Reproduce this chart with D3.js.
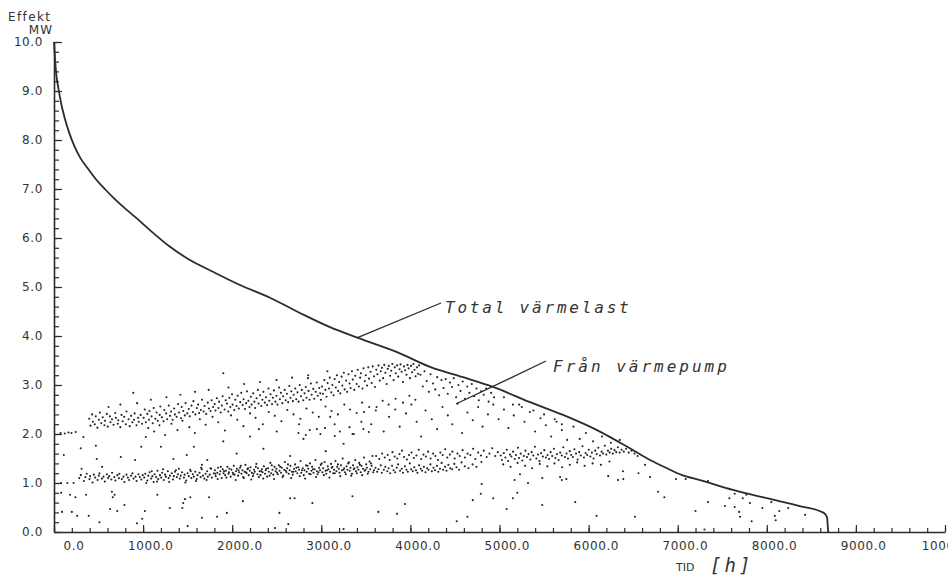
<!DOCTYPE html>
<html>
<head>
<meta charset="utf-8">
<script src="https://cdn.jsdelivr.net/npm/d3@7"></script>
<style>
  body { margin: 0; background: #fff; }
  svg { display: block; }
  .tick text { font-family: "DejaVu Sans", sans-serif; font-size: 12px; fill: #333; letter-spacing: 0.6px; }
</style>
</head>
<body>
<svg width="948" height="575"></svg>
<script>
// varaktighetskurva, total värmelast (h, MW)
var loadCurve = [[0,10.0],[10,9.7],[25,9.35],[50,9.05],[80,8.75],[120,8.45],[170,8.15],[230,7.87],[300,7.62],[380,7.42],[470,7.2],[570,7.0],[680,6.8],[800,6.6],[930,6.4],[1077,6.16],[1302,5.82],[1526,5.55],[1785,5.31],[2088,5.04],[2424,4.78],[2760,4.47],[3098,4.18],[3412,3.96],[3850,3.67],[4220,3.37],[4590,3.16],[4927,2.96],[5342,2.65],[5713,2.39],[6094,2.08],[6500,1.67],[6690,1.47],[6880,1.3],[7050,1.16],[7250,1.06],[7620,0.86],[8000,0.69],[8370,0.53],[8640,0.39],[8676,0.3],[8685,0.1],[8690,0]];

// från värmepump - lägre band
var lowerBand = [[284,1.1],[301,1.16],[335,1.04],[352,1.12],[367,1.19],[398,1.08],[405,1.14],[433,1.01],[447,1.17],[462,1.11],[489,1.06],[503,1.15],[511,1.2],[538,1.09],[556,1.13],[571,1.03],[593,1.18],[608,1.1],[619,1.14],[644,1.07],[652,1.21],[677,1.12],[689,1.05],[712,1.16],[728,1.1],[734,1.19],[761,1.08],[779,1.13],[790,1.02],[813,1.17],[829,1.11],[842,1.06],[866,1.15],[881,1.2],[893,1.09],[915,1.13],[927,1.04],[948,1.18],[963,1.12],[981,1.07],[996,1.16],
[1012,1.11],[1024,1.19],[1047,1.05],[1058,1.15],[1073,1.22],[1091,1.09],[1104,1.14],[1118,1.02],[1129,1.18],[1146,1.12],[1162,1.25],[1170,1.08],[1189,1.16],[1203,1.11],[1214,1.21],[1232,1.06],[1247,1.17],[1255,1.13],[1278,1.24],[1286,1.1],[1301,1.15],[1322,1.2],[1335,1.07],[1344,1.14],[1368,1.26],[1379,1.12],[1391,1.18],[1412,1.09],[1423,1.15],[1437,1.22],[1458,1.11],[1466,1.17],[1484,1.05],[1499,1.2],[1513,1.14],[1528,1.27],[1541,1.1],[1557,1.18],[1569,1.13],[1586,1.23],[1602,1.08],[1611,1.16],[1633,1.21],[1645,1.12],[1659,1.28],[1672,1.15],[1688,1.09],[1701,1.19],[1719,1.24],[1727,1.13],[1748,1.17],[1763,1.29],[1771,1.11],[1794,1.2],
[1036,1.0],[1097,1.24],[1157,1.03],[1224,1.28],[1293,1.02],[1357,1.23],[1402,1.29],[1474,1.01],[1535,1.24],[1594,1.04],[1651,1.31],[1713,1.06],[1756,1.3],
[1806,1.26],[1815,1.14],[1833,1.21],[1841,1.31],[1859,1.18],[1867,1.24],[1882,1.1],[1894,1.28],[1903,1.2],[1921,1.16],[1929,1.25],[1946,1.33],[1958,1.19],[1964,1.22],[1983,1.13],[1991,1.27],[2007,1.21],[2018,1.35],[2026,1.17],[2044,1.24],[2053,1.29],[2067,1.15],[2079,1.22],[2088,1.31],[2104,1.19],[2115,1.26],[2123,1.12],[2139,1.23],[2148,1.37],[2162,1.2],[2171,1.28],[2186,1.16],[2197,1.25],[2205,1.32],[2221,1.21],[2232,1.14],[2246,1.27],[2254,1.23],[2271,1.39],[2283,1.18],[2290,1.3],[2308,1.24],[2317,1.16],[2333,1.28],[2341,1.22],[2356,1.34],[2368,1.19],[2376,1.26],[2392,1.13],[2403,1.3],[2411,1.23],[2428,1.41],[2437,1.2],[2452,1.27],[2461,1.17],[2475,1.33],[2488,1.24],[2496,1.29],[2512,1.18],[2523,1.36],[2531,1.25],[2548,1.21],[2557,1.31],[2573,1.15],[2584,1.27],[2592,1.43],[2609,1.22],[2617,1.3],[2634,1.19],[2645,1.26],[2653,1.35],[2671,1.23],[2679,1.17],[2694,1.29],[2706,1.38],[2713,1.24],[2731,1.2],[2742,1.32],[2750,1.27],[2767,1.45],[2775,1.21],[2792,1.3],[2803,1.16],[2811,1.26],[2828,1.36],[2836,1.23],[2853,1.29],[2864,1.19],[2872,1.4],[2889,1.25],[2897,1.33],[2913,1.21],[2925,1.28],[2934,1.47],[2950,1.24],[2958,1.18],[2975,1.31],[2986,1.26],[2994,1.37],[3012,1.22],[3021,1.3],[3037,1.43],[3048,1.25],[3056,1.19],[3073,1.34],[3081,1.28],[3098,1.23],[3109,1.39],[3117,1.31],[3134,1.2],[3143,1.27],[3159,1.45],[3170,1.24],[3178,1.33],[3196,1.29],[3204,1.21],[3221,1.36],[3232,1.26],[3240,1.5],[3257,1.3],[3266,1.22],[3283,1.34],[3294,1.27],[3302,1.4],[3319,1.25],[3327,1.31],[3344,1.19],[3356,1.36],[3364,1.28],[3381,1.47],[3389,1.24],[3406,1.32],[3417,1.27],[3425,1.41],[3443,1.22],[3451,1.35],[3468,1.29],[3479,1.52],[3487,1.25],[3504,1.38],[3512,1.31],[3530,1.23],[3541,1.44],[3549,1.28],[3566,1.35],[3574,1.55],[3591,1.26],
[1811,1.19],[1837,1.08],[1872,1.33],[1908,1.24],[1935,1.11],[1969,1.29],[2012,1.18],[2039,1.06],[2071,1.26],[2096,1.35],[2131,1.1],[2155,1.22],[2178,1.3],[2214,1.07],[2239,1.19],[2266,1.33],[2299,1.12],[2325,1.24],[2349,1.09],[2383,1.29],[2419,1.15],[2444,1.36],[2469,1.08],[2503,1.21],[2539,1.33],[2566,1.12],[2601,1.25],[2626,1.38],[2662,1.1],[2687,1.23],[2721,1.31],[2758,1.14],[2784,1.26],[2819,1.09],[2845,1.35],[2881,1.18],[2906,1.28],[2941,1.12],[2968,1.22],[3004,1.4],[3029,1.16],[3065,1.26],[3091,1.11],[3126,1.33],[3152,1.2],[3187,1.38],[3213,1.14],[3249,1.27],[3275,1.18],[3310,1.42],[3336,1.15],[3372,1.3],[3398,1.2],[3433,1.37],[3459,1.16],[3495,1.27],[3521,1.19],[3557,1.4],[3583,1.22],
[3608,1.31],[3627,1.23],[3642,1.28],[3668,1.36],[3679,1.21],[3702,1.27],[3718,1.33],[3741,1.24],[3756,1.3],[3773,1.2],[3794,1.35],[3811,1.26],[3829,1.22],[3847,1.31],[3862,1.38],[3884,1.25],[3903,1.29],[3917,1.21],[3938,1.34],[3956,1.27],[3971,1.23],[3993,1.4],[4008,1.28],[4026,1.24],[4044,1.32],[4063,1.26],[4079,1.21],[4097,1.36],[4116,1.29],[4131,1.25],[4152,1.33],[4169,1.22],[4188,1.3],[4203,1.27],[4224,1.38],[4241,1.24],[4259,1.31],[4276,1.26],[4298,1.35],[4313,1.23],[4332,1.29],[4350,1.41],[4367,1.27],[4389,1.33],[4405,1.25],[4426,1.37],[4448,1.3],[4469,1.28],[4493,1.39],[4517,1.32],[4546,1.27],[4574,1.42],[4611,1.34],[4652,1.3],[4698,1.38],[4741,1.33],[4797,1.43],
[3615,1.55],[3651,1.49],[3683,1.6],[3712,1.52],[3745,1.57],[3768,1.47],[3799,1.63],[3823,1.54],[3852,1.5],[3878,1.59],[3906,1.66],[3929,1.53],[3961,1.48],[3984,1.57],[4013,1.62],[4039,1.51],[4068,1.56],[4094,1.68],[4121,1.49],[4147,1.58],[4174,1.54],[4199,1.64],[4227,1.5],[4255,1.6],[4281,1.55],[4309,1.47],[4336,1.62],[4362,1.57],[4391,1.69],[4414,1.52],[4443,1.58],[4471,1.64],[4497,1.5],[4528,1.6],[4553,1.55],[4586,1.67],[4612,1.52],[4641,1.6],[4673,1.57],[4704,1.7],[4729,1.49],[4761,1.62],[4792,1.56],[4823,1.66],[4856,1.53],[4887,1.6],[4918,1.71],[4952,1.55],[4981,1.63],
[5014,1.56],[5027,1.47],[5049,1.61],[5066,1.52],[5081,1.68],[5097,1.45],[5118,1.58],[5133,1.54],[5152,1.64],[5171,1.49],[5185,1.57],[5207,1.72],[5219,1.51],[5238,1.6],[5256,1.46],[5273,1.55],[5291,1.66],[5308,1.53],[5326,1.59],[5347,1.48],[5361,1.63],[5379,1.56],[5398,1.74],[5414,1.5],[5433,1.58],[5449,1.45],[5468,1.61],[5487,1.54],[5503,1.67],[5521,1.52],[5539,1.57],[5556,1.49],[5574,1.63],[5592,1.55],[5611,1.7],[5627,1.51],[5645,1.59],[5663,1.47],[5681,1.62],[5699,1.56],[5716,1.73],[5734,1.53],[5752,1.6],[5769,1.5],[5788,1.65],[5805,1.57],[5823,1.53],[5841,1.69],[5859,1.6],[5877,1.48],[5894,1.63],[5912,1.56],[5931,1.75],[5948,1.52],[5966,1.61],[5984,1.57],[6002,1.68],[6020,1.54],[6037,1.62],[6056,1.5],[6074,1.66],[6091,1.59],[6109,1.72],[6128,1.56],[6146,1.64],[6163,1.6],[6182,1.76],[6199,1.58],[6217,1.66],[6236,1.62],[6254,1.7],[6272,1.6],[6291,1.67],[6310,1.63],[6329,1.73],[6348,1.62],[6370,1.68],[6395,1.64],[6421,1.7],[6450,1.62],[6482,1.66],[6515,1.6],[6550,1.55],
[5042,1.38],[5124,1.33],[5203,1.41],[5287,1.35],[5366,1.3],[5452,1.39],[5538,1.34],[5617,1.4],[5703,1.32],[5789,1.37],[5872,1.42],[5955,1.35],[6045,1.4],[6138,1.37],[6234,1.44]];

// från värmepump - övre band
var upperBand = [[73,2.02],[121,2.01],[162,2.03],[196,2.02],[244,2.04],
[395,2.31],[409,2.17],[428,2.4],[436,2.25],[458,2.2],[469,2.36],[487,2.13],[503,2.29],[515,2.44],[531,2.22],[547,2.34],[566,2.18],[572,2.27],[594,2.41],[603,2.15],[627,2.36],[634,2.24],[651,2.3],[668,2.19],[687,2.43],[695,2.33],[716,2.21],[722,2.28],[744,2.14],[758,2.39],[771,2.26],[788,2.35],[806,2.2],[814,2.46],[837,2.3],[849,2.16],[866,2.37],[879,2.24],[898,2.29],[905,2.42],[926,2.18],[944,2.33],[951,2.25],[973,2.39],[988,2.21],[890,2.84],
[1006,2.33],[1019,2.5],[1031,2.24],[1048,2.41],[1066,2.29],[1072,2.47],[1095,2.36],[1108,2.22],[1119,2.53],[1137,2.31],[1151,2.44],[1164,2.27],[1186,2.39],[1193,2.56],[1211,2.34],[1229,2.26],[1238,2.49],[1259,2.42],[1270,2.3],[1288,2.58],[1302,2.37],[1314,2.46],[1331,2.29],[1349,2.52],[1357,2.4],[1376,2.35],[1392,2.61],[1404,2.44],[1425,2.32],[1433,2.55],[1451,2.47],[1468,2.38],[1477,2.63],[1496,2.42],[1512,2.51],[1524,2.36],[1543,2.58],[1559,2.45],[1565,2.67],[1587,2.4],[1603,2.53],[1617,2.6],[1629,2.43],[1648,2.49],[1662,2.7],[1679,2.46],[1690,2.57],[1708,2.41],[1726,2.64],[1739,2.52],[1757,2.47],[1768,2.69],[1785,2.55],
[1803,2.61],[1812,2.48],[1828,2.73],[1846,2.53],[1853,2.66],[1871,2.44],[1884,2.58],[1893,2.77],[1900,3.24],[1915,2.5],[1927,2.69],[1941,2.62],[1956,2.46],[1968,2.74],[1979,2.55],[1998,2.81],[2004,2.6],[2023,2.49],[2035,2.7],[2049,2.57],[2061,2.78],[2074,2.52],[2090,2.65],[2102,2.84],[2117,2.59],[2128,2.71],[2143,2.51],[2157,2.63],[2166,2.87],[2182,2.68],[2194,2.55],[2209,2.76],[2218,2.6],[2236,2.83],[2249,2.66],[2258,2.53],[2274,2.73],[2288,2.9],[2296,2.62],[2313,2.79],[2327,2.57],[2339,2.7],[2350,2.86],[2366,2.64],[2379,2.75],[2391,2.59],[2407,2.93],[2416,2.68],[2430,2.81],[2447,2.61],[2456,2.74],[2469,2.89],[2485,2.66],[2497,2.78],[2508,2.6],[2526,2.95],[2535,2.71],[2547,2.84],[2563,2.63],[2571,2.77],[2589,2.9],[2600,2.69],[2614,2.82],[2628,2.65],[2641,2.98],[2655,2.74],[2664,2.87],[2681,2.67],[2690,2.8],[2707,2.93],[2719,2.71],[2733,2.85],[2745,2.66],[2758,3.0],[2772,2.77],[2781,2.9],[2797,2.69],[2812,2.83],[2826,2.96],[2834,2.74],[2850,3.14],[2857,2.88],[2868,2.7],[2883,3.03],[2892,2.8],[2910,2.92],[2921,2.72],[2937,2.86],[2949,3.05],[2960,2.78],[2977,2.94],[2988,2.83],[2996,2.7],
[3008,2.97],[3019,2.82],[3034,3.1],[3046,2.9],[3059,2.76],[3071,3.04],[3086,2.93],[3095,3.15],[3112,2.85],[3124,3.0],[3138,2.79],[3150,3.12],[3163,2.95],[3175,3.2],[3189,2.88],[3201,3.06],[3214,2.83],[3228,3.17],[3236,2.99],[3253,3.25],[3262,2.91],[3279,3.09],[3290,2.86],[3305,3.22],[3317,3.03],[3329,2.94],[3344,3.28],[3353,3.11],[3370,2.9],[3381,3.19],[3397,3.02],[3408,3.31],[3421,2.97],[3436,3.15],[3445,3.24],[3462,2.93],[3474,3.34],[3488,3.08],[3499,3.2],[3513,2.99],[3527,3.36],[3536,3.13],[3553,3.27],[3565,3.04],[3577,3.38],[3591,3.18],[3603,2.96],[3617,3.31],[3629,3.22],[3642,3.4],[3656,3.09],[3668,3.28],[3681,3.35],[3694,3.14],[3707,3.41],[3719,3.25],[3734,3.02],[3746,3.33],[3758,3.39],[3773,3.19],[3785,3.29],[3797,3.43],[3812,3.1],[3824,3.36],[3836,3.24],[3851,3.4],[3863,3.17],[3878,3.32],[3889,3.42],[3902,3.27],[3917,3.06],[3929,3.38],[3941,3.3],[3956,3.21],[3968,3.41],[3980,3.34],[3995,3.14],[4007,3.39],[4019,3.26],[4034,3.43],[4046,3.31],[4058,3.18],[4073,3.36],[4085,3.23],[4097,3.4],
[4112,3.21],[4139,2.97],[4158,3.28],[4183,3.08],[4207,2.86],[4226,3.22],[4254,3.03],[4279,2.91],[4301,3.16],[4322,2.79],[4349,3.1],[4371,2.94],[4396,3.12],[4419,2.82],[4444,3.05],[4468,2.96],[4487,3.14],[4513,2.75],[4539,3.0],[4562,2.88],[4587,3.07],[4611,2.72],[4638,2.97],[4662,2.84],[4689,3.02],[4716,2.77],[4741,2.93],[4768,2.69],[4795,2.87],[4823,2.8],[4851,2.93],[4878,2.66],[4906,2.84],[4939,2.75],
[5050,2.75],[5150,2.6],[5250,2.55],[5380,2.48],[5500,2.4],[5620,2.3],[5700,2.2],
[612,2.55],[745,2.6],[933,2.63],[1087,2.7],[1262,2.75],[1419,2.8],[1583,2.86],[1736,2.9],[1958,2.95],[2134,3.02],[2312,3.06],[2498,3.1],[2672,3.15],[2853,3.2],[3068,3.28]];

// enstaka punkter mellan banden och under
var scattered = [[110,1.57],[300,1.71],[330,1.94],[470,1.76],[480,1.49],[310,1.29],[540,1.33],[750,1.53],[910,1.47],[980,1.74],[1030,1.94],[1200,1.74],[1340,1.49],[1490,1.57],[1570,1.74],[1720,1.47],[1660,1.37],[1900,1.85],[2050,1.6],[2200,1.95],[2350,1.7],[2500,2.05],[2650,1.55],[2800,1.9],[2950,2.1],[3050,1.65],[3150,2.2],[3250,1.8],[3350,2.0],[3450,2.25],[2750,2.2],[3100,2.35],[2300,2.1],
[2743,2.02],[2826,1.98],[2871,2.08],[2990,2.0],[3041,2.12],[3152,1.96],[3208,2.05],[3317,2.14],[3366,2.0],[3472,2.1],[3533,2.04],
[1058,2.12],[1124,2.05],[1183,2.18],[1247,1.98],[1318,2.21],[1386,2.08],[1442,2.27],[1519,2.14],[1581,2.02],[1637,2.3],[1702,2.19],[1779,2.35],[1843,2.24],[1918,2.07],[1987,2.38],[2058,2.29],[2126,2.16],[2201,2.42],[2262,2.33],[2344,2.2],[2411,2.45],[2478,2.37],[2552,2.26],[2619,2.49],[2688,2.4],[2765,2.31],[2833,2.52],[2904,2.44],[2972,2.35],[3047,2.56],[3115,2.47],[3186,2.4],[3258,2.6],[3323,2.5],[3397,2.43],[3458,2.64],[3538,2.55],[3612,2.48],[3689,2.68],[3756,2.6],[3834,2.72],[3917,2.64],[3989,2.78],[4056,2.7],
[3480,2.45],[3560,2.2],[3620,2.55],[3700,2.05],[3760,2.35],[3830,2.5],[3880,2.15],[3950,2.42],[4010,2.6],[4070,2.25],[4120,1.95],[4170,2.48],[4240,2.3],[4300,2.1],[4360,2.55],[4420,2.38],[4470,2.2],[4530,2.62],[4580,2.02],[4640,2.44],[4700,2.28],[4760,2.55],[4810,2.15],[4870,2.4],[4930,2.6],[4990,2.3],[5050,2.5],[5100,2.12],[5160,2.38],[5220,2.6],[5280,2.25],[5340,2.45],[5400,2.05],[5460,2.32],[5520,2.18],[5580,1.95],[5640,2.25],[5700,2.08],[5760,1.88],[5830,2.15],[5900,1.9],[5970,2.02],[6050,1.85],[6150,1.95],[6250,1.82],[6350,1.88],
[80,1.0],[150,1.0],[220,1.0],[80,0.8],[180,0.76],[240,0.71],[360,0.76],[90,0.41],[200,0.41],[260,0.33],[390,0.33],[510,0.2],[650,0.82],[680,0.76],[660,0.71],[630,0.47],[710,0.43],[790,0.55],[930,0.18],[990,0.27],[1020,0.43],[1160,0.76],[1300,0.49],[1440,0.49],[1450,0.59],[1470,0.67],[1530,0.71],[1500,0.12],[1660,0.29],[1740,0.71],[1830,0.31],[1940,0.39],[2120,0.63],[2530,0.39],[2630,0.16],[2650,0.69],[2700,0.69],[2900,0.59],[3350,0.73],[3640,0.41],[3850,0.37],[3940,0.57],[4520,0.22],[4640,0.31],[4700,0.65],[4790,0.78],[4800,0.98],[4930,0.69],[5080,0.47],[5200,0.8],[5170,1.06],[5150,0.69],[5480,0.55],[5850,0.61],[6090,0.33],[6520,0.31],[5230,1.18],[5320,1.0],[5480,1.1],[5680,1.12],[5700,1.06],[5750,1.08],[6220,1.14],[6330,1.06],[6390,1.08],[6560,1.2],[6690,1.12],[6780,0.82],[6850,0.71],[6386,1.24],[6633,1.37],[6980,1.08],[7090,1.08],[7200,0.43],[7340,1.04],[7340,0.61],[7530,0.53],[7580,0.69],[7640,0.78],[7640,0.51],[7690,0.41],[7700,0.31],[7730,0.69],[7770,0.76],[7810,0.59],[7830,0.22],[7950,0.49],[8050,0.61],[8090,0.33],[8100,0.24],[8140,0.43],[8240,0.49],[8430,0.35],[2480,0.08],[3250,0.06],[7300,0.05]];

var yMajor = [0,1,2,3,4,5,6,7,8,9,10];
var xMajor = [0,1000,2000,3000,4000,5000,6000,7000,8000,9000,10000];

var svg = d3.select("svg");
var x = d3.scaleLinear().domain([0, 10000]).range([54, 945]);
var y = d3.scaleLinear().domain([0, 10]).range([532, 42]);
var ink = "#2b2b2b";

// minor ticks
svg.append("g").attr("transform", "translate(54,0)")
  .call(d3.axisLeft(y).tickValues(d3.range(0, 10.01, 0.2)).tickSize(-5).tickFormat(""))
  .call(function(g){ g.select(".domain").remove(); });
svg.append("g").attr("transform", "translate(0,532)")
  .call(d3.axisBottom(x).tickValues(d3.range(0, 10001, 200)).tickSize(-4).tickFormat(""))
  .call(function(g){ g.select(".domain").remove(); });

// major axes
var yAxis = svg.append("g").attr("transform", "translate(54,0)")
  .call(d3.axisLeft(y).tickValues(yMajor).tickSize(-8).tickSizeOuter(0).tickPadding(11).tickFormat(d3.format(".1f")));
var xAxis = svg.append("g").attr("transform", "translate(0,532)")
  .call(d3.axisBottom(x).tickValues(xMajor).tickSize(-7).tickSizeOuter(0).tickPadding(9).tickFormat(d3.format(".1f")));
xAxis.selectAll("text").attr("text-anchor", "end").attr("dx", 30);
svg.selectAll(".domain").attr("stroke", ink).attr("stroke-width", 1.6);
svg.selectAll(".tick line").attr("stroke", ink).attr("stroke-width", 1.2);

// scatter
var dots = lowerBand.concat(upperBand, scattered);
svg.append("g").selectAll("circle").data(dots).enter().append("circle")
  .attr("cx", function(d){ return x(d[0]); })
  .attr("cy", function(d){ return y(d[1]); })
  .attr("r", 1.05)
  .attr("fill", "#222");

// curve
svg.append("path").datum(loadCurve)
  .attr("fill", "none").attr("stroke", ink).attr("stroke-width", 1.8)
  .attr("d", d3.line().curve(d3.curveMonotoneX).x(function(d){ return x(d[0]); }).y(function(d){ return y(d[1]); }));

// axis titles
svg.append("text").attr("x", 8).attr("y", 21).text("Effekt")
  .attr("font-family", "DejaVu Sans").attr("font-size", 12).attr("letter-spacing", 1.4).attr("fill", "#333");
svg.append("text").attr("x", 53).attr("y", 34).attr("text-anchor", "end").text("MW")
  .attr("font-family", "DejaVu Sans").attr("font-size", 12).attr("letter-spacing", 1).attr("fill", "#333");
svg.append("text").attr("x", 676).attr("y", 571).text("TID")
  .attr("font-family", "DejaVu Sans").attr("font-size", 11).attr("fill", "#333");
svg.append("text").attr("x", 710).attr("y", 572).text("[h]")
  .attr("font-family", "DejaVu Sans Mono").attr("font-style", "italic").attr("font-size", 19).attr("letter-spacing", 3).attr("fill", "#333");

// annotations
svg.append("line").attr("x1", x(3400)).attr("y1", y(3.96)).attr("x2", 441).attr("y2", 303)
  .attr("stroke", ink).attr("stroke-width", 1.3);
svg.append("text").attr("x", 445).attr("y", 313).text("Total värmelast")
  .attr("font-family", "DejaVu Sans Mono").attr("font-style", "italic").attr("font-size", 16).attr("letter-spacing", 2.8).attr("fill", "#333");
svg.append("line").attr("x1", 456).attr("y1", 404).attr("x2", 546).attr("y2", 361)
  .attr("stroke", ink).attr("stroke-width", 1.3);
svg.append("text").attr("x", 553).attr("y", 372).text("Från värmepump")
  .attr("font-family", "DejaVu Sans Mono").attr("font-style", "italic").attr("font-size", 16).attr("letter-spacing", 3).attr("fill", "#333");
</script>
</body>
</html>
